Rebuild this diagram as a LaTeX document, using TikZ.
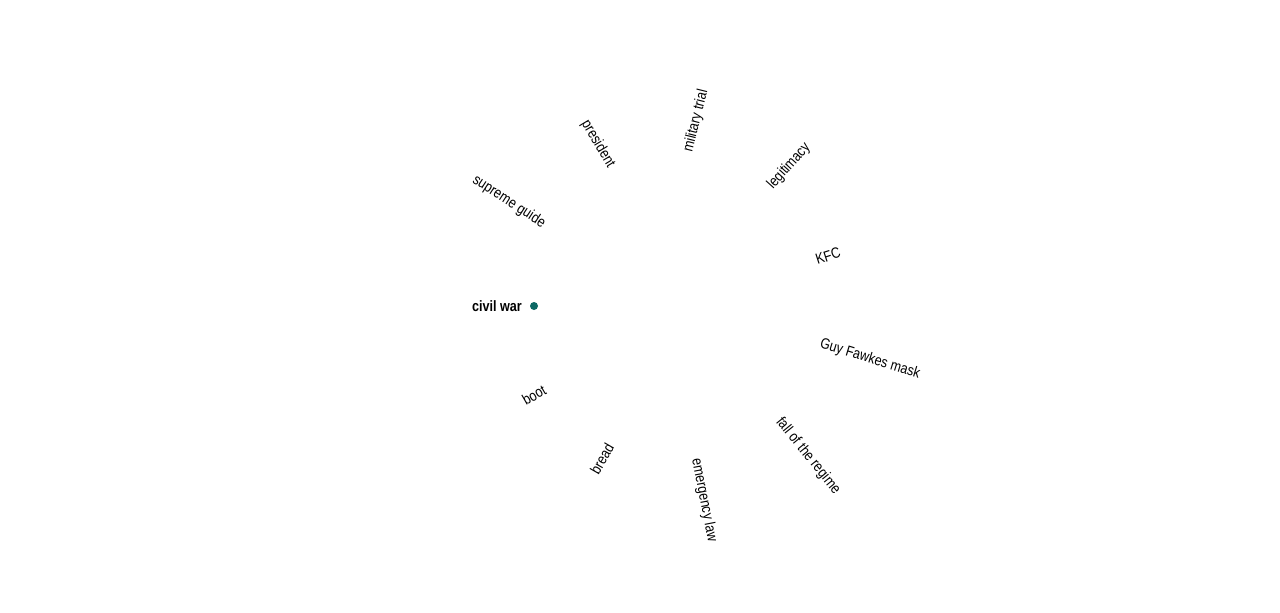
\documentclass[tikz,border=0pt]{standalone}
\usepackage{fontspec}
\setmainfont{Liberation Sans}[FakeStretch=0.84]
\usepackage{tikz}
\usetikzlibrary{positioning}
\definecolor{dotteal}{RGB}{12,104,100}

\tikzset{
    term/.style={font=\fontsize{15}{17}\selectfont, inner sep=0pt, text=black},
    focus/.style={term, font=\fontsize{15}{17}\selectfont\bfseries},
    focusdot/.style={circle, fill=dotteal, minimum size=8pt, inner sep=0pt}
}

\begin{document}
\begin{tikzpicture}[x=1pt, y=-1pt]
    \fill[white] (0,0) rectangle (1280,613);

    \node[focusdot] (dot) at (534,306) {};
    \node[focus, anchor=east] (civilwar) at (522,306) {civil war};

    \node[term, rotate=-33] (supremeguide) at (509,202) {supreme guide};
    \node[term, rotate=-59] (president) at (598,144) {president};
    \node[term, rotate=76] (militarytrial) at (696,121) {military trial};
    \node[term, rotate=48] (legitimacy) at (789,166) {legitimacy};
    \node[term, rotate=18] (kfc) at (828,256) {KFC};

    \node[term, rotate=-17] (guyfawkes) at (870,359) {Guy Fawkes mask};
    \node[term, rotate=-51] (fallregime) at (808,456) {fall of the regime};
    \node[term, rotate=-79] (emergencylaw) at (704,500) {emergency law};
    \node[term, rotate=60] (bread) at (602,459) {bread};
    \node[term, rotate=30] (boot) at (534,395) {boot};
\end{tikzpicture}
\end{document}
